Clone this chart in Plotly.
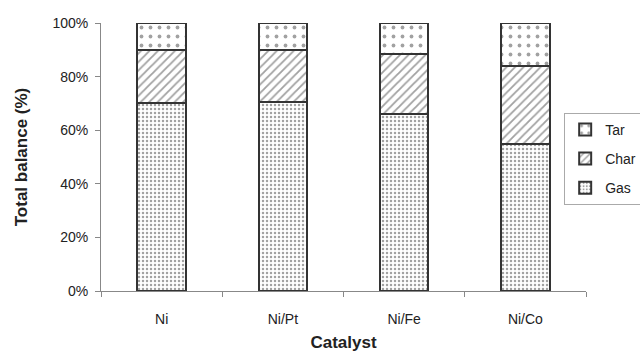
import plotly.graph_objects as go

catalysts = ["Ni", "Ni/Pt", "Ni/Fe", "Ni/Co"]
gas = [70, 70.5, 66, 55]
char = [20, 19.5, 22.5, 29]
tar = [10, 10, 11.5, 16]

fig = go.Figure()
styles = {
    "Gas": dict(shape=".", size=4, solidity=0.3, rank=3),
    "Char": dict(shape="/", size=6, solidity=0.3, rank=2),
    "Tar": dict(shape=".", size=9, solidity=0.14, rank=1),
}
for name, vals in [("Gas", gas), ("Char", char), ("Tar", tar)]:
    st = styles[name]
    fig.add_trace(go.Bar(
        x=catalysts, y=vals, name=name, legendgroup=name, legendrank=st["rank"],
        marker=dict(color="white", line=dict(color="#333333", width=2),
                    pattern=dict(shape=st["shape"], fgcolor="#444444", bgcolor="white",
                                 size=st["size"], solidity=st["solidity"])),
    ))

fig.update_layout(
    barmode="stack", bargap=0.6,
    width=640, height=361,
    margin=dict(l=101, r=54, t=23, b=70, autoexpand=False),
    plot_bgcolor="white", paper_bgcolor="white",
    font=dict(family="Liberation Sans, Arial", size=14, color="#222222"),
    legend=dict(x=0.955, y=0.665, xanchor="left", yanchor="top",
                bordercolor="#aaaaaa", borderwidth=1, traceorder="grouped",
                tracegroupgap=8, itemwidth=30, font=dict(size=14)),
    xaxis=dict(title=dict(text="<b>Catalyst</b>", standoff=10), showline=True, linecolor="#888888",
               ticks="outside", tickson="boundaries", ticklen=5, tickcolor="#888888",
               ticklabelstandoff=15),
    yaxis=dict(title=dict(text="<b>Total balance (%)</b>", standoff=20), range=[0, 100], dtick=20,
               ticksuffix="%", showline=True, linecolor="#888888", ticks="outside",
               ticklen=5, tickcolor="#888888", showgrid=False, zeroline=False,
               ticklabelstandoff=4),
)
fig.write_html("out.html")
